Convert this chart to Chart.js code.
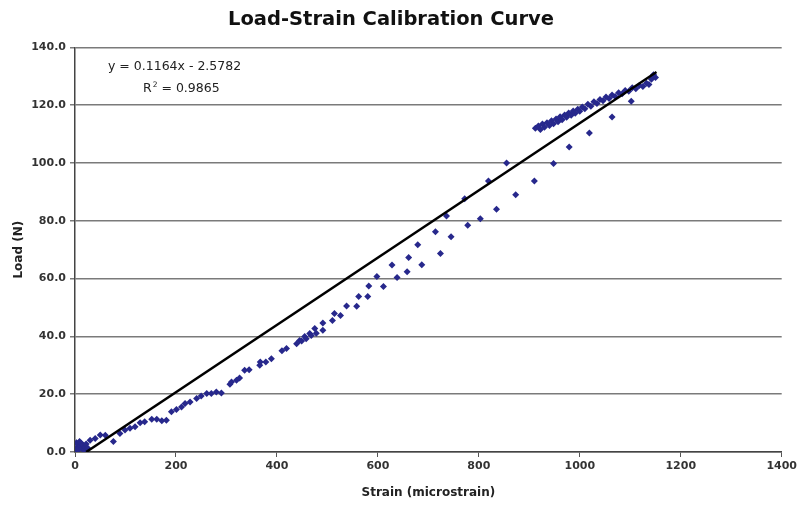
<!DOCTYPE html>
<html>
<head>
<meta charset="utf-8">
<script src="https://cdn.jsdelivr.net/npm/chart.js@4/dist/chart.umd.min.js"></script>
<style>
html,body{margin:0;padding:0;background:#fff;}
#wrap{width:800px;height:508px;position:relative;}
</style>
</head>
<body>
<div id="wrap"><canvas id="c" width="800" height="508"></canvas></div>
<script>
// ---- data ----
const chartTitle = 'Load-Strain Calibration Curve';
const xTitle = 'Strain (microstrain)';
const yTitle = 'Load (N)';
const xTicks = [0, 200, 400, 600, 800, 1000, 1200, 1400];
const yTicks = [0, 20, 40, 60, 80, 100, 120, 140];

// measured points (strain, load)
const strain = [
  2,4,6,3,8,10,12,5,14,16,18,20,9,22,25,
  30,40,50,60,76,89,99,109,119,129,138,152,162,172,181,
  191,201,211,218,228,241,250,261,270,280,290,307,310,320,326,
  336,345,366,367,378,389,410,419,439,445,449,455,458,465,468,475,478,491,491,
  514,538,562,582,598,628,661,679,714,736,772,819,855,
  510,526,558,580,611,638,658,687,724,745,778,803,835,873,910,948,979,1019,1064,1102,
  912,918,922,926,930,935,940,944,948,953,957,961,965,970,974,978,983,987,991,996,
  1000,1005,1010,1016,1022,1028,1034,1040,1046,1052,1058,1064,1070,1077,1084,1090,
  1097,1104,1111,1118,1125,1132,1137,1142,1146,1150
];
const load = [
  0.5,1.5,2.5,3.2,1.0,2.0,3.0,0.8,1.2,2.4,0.6,1.8,3.6,2.8,1.4,
  4.1,4.7,5.9,5.8,3.6,6.4,7.6,8.2,8.7,10.1,10.5,11.3,11.3,10.8,11.0,
  13.9,14.7,15.6,16.8,17.3,18.5,19.4,20.2,20.2,20.8,20.4,23.4,24.2,24.8,25.6,
  28.3,28.5,30.0,31.1,31.1,32.3,35.0,35.8,37.5,38.6,38.4,40.0,39.2,41.0,40.3,42.7,41.1,42.1,44.6,
  47.9,50.5,53.8,57.4,60.7,64.7,67.3,71.7,76.2,81.7,87.6,93.8,100.0,
  45.5,47.2,50.4,53.8,57.3,60.4,62.4,64.8,68.7,74.5,78.5,80.7,84.0,89.0,93.8,99.8,105.5,110.4,115.9,121.4,
  112.0,112.8,111.6,113.5,112.4,113.9,113.0,114.6,113.6,115.2,114.3,116.0,115.0,116.6,115.8,117.3,116.5,118.0,117.2,118.6,
  117.9,119.4,118.8,120.3,119.6,121.2,120.6,122.0,121.5,122.8,122.3,123.5,123.0,124.3,124.0,125.1,
  124.8,126.0,125.7,126.8,126.5,127.6,127.2,129.0,130.5,129.6
];

// linear trendline as stated on the chart
const slope = 0.1164;
const intercept = -2.5782;
const trendX = [22.15, 1152];
const eqText = 'y = 0.1164x - 2.5782';
const r2Text = ' = 0.9865';

const points = strain.map((x, i) => ({x: x, y: load[i]}));
const trend = trendX.map(x => ({x: x, y: slope * x + intercept}));

const FONT = '"DejaVu Sans", Verdana, sans-serif';

const eqPlugin = {
  id: 'eq',
  afterDraw(chart) {
    const ctx = chart.ctx;
    const a = chart.chartArea;
    ctx.save();
    ctx.fillStyle = '#222';
    ctx.textBaseline = 'middle';
    ctx.textAlign = 'left';
    ctx.font = '12.5px ' + FONT;
    ctx.fillText(eqText, a.left + 33, 67);
    let x = a.left + 68;
    ctx.fillText('R', x, 89);
    x += ctx.measureText('R').width + 1;
    ctx.font = '7.5px ' + FONT;
    ctx.fillText('2', x, 85);
    x += ctx.measureText('2').width;
    ctx.font = '12.5px ' + FONT;
    ctx.fillText(r2Text, x, 89);
    ctx.restore();
  }
};

new Chart(document.getElementById('c'), {
  type: 'scatter',
  data: {
    datasets: [
      {
        data: points,
        pointStyle: 'rectRot',
        pointRadius: 3.5,
        pointBackgroundColor: '#27288c',
        pointBorderColor: '#27288c',
        pointBorderWidth: 0,
        showLine: false,
        order: 2
      },
      {
        type: 'line',
        data: trend,
        borderColor: '#000',
        borderWidth: 2.5,
        pointRadius: 0,
        fill: false,
        order: 1
      }
    ]
  },
  plugins: [eqPlugin],
  options: {
    responsive: false,
    animation: false,
    layout: {padding: {left: 0, right: 18, top: 0, bottom: 0}},
    plugins: {
      legend: {display: false},
      tooltip: {enabled: false},
      title: {
        display: true,
        text: chartTitle,
        color: '#111',
        font: {family: FONT, size: 19.5, weight: 'bold'},
        padding: {top: 8, bottom: 16}
      }
    },
    scales: {
      x: {
        type: 'linear',
        min: 0, max: 1400,
        afterBuildTicks(s) { s.ticks = xTicks.map(v => ({value: v})); },
        afterFit(s) { s.height = 56; },
        ticks: {
          color: '#333',
          font: {family: FONT, size: 11, weight: 'bold'},
          padding: 3,
          maxRotation: 0,
          callback: v => String(v)
        },
        grid: {drawOnChartArea: false, drawTicks: true, tickLength: 5, color: '#555', lineWidth: 1},
        border: {display: true, color: '#444', width: 1.5},
        title: {
          display: true, text: xTitle, color: '#222',
          font: {family: FONT, size: 12, weight: 'bold'},
          padding: {top: 0, bottom: 8}
        }
      },
      y: {
        type: 'linear',
        min: 0, max: 140,
        afterBuildTicks(s) { s.ticks = yTicks.map(v => ({value: v})); },
        afterFit(s) { s.width = 75; },
        ticks: {
          color: '#333',
          font: {family: FONT, size: 11, weight: 'bold'},
          padding: 4,
          callback: v => v.toFixed(1)
        },
        grid: {drawOnChartArea: true, drawTicks: true, tickLength: 5, color: '#7a7a7a', lineWidth: 1.5},
        border: {display: true, color: '#444', width: 1.5},
        title: {
          display: true, text: yTitle, color: '#222',
          font: {family: FONT, size: 12, weight: 'bold'},
          padding: {top: 12, bottom: 0}
        }
      }
    }
  }
});
</script>
</body>
</html>
